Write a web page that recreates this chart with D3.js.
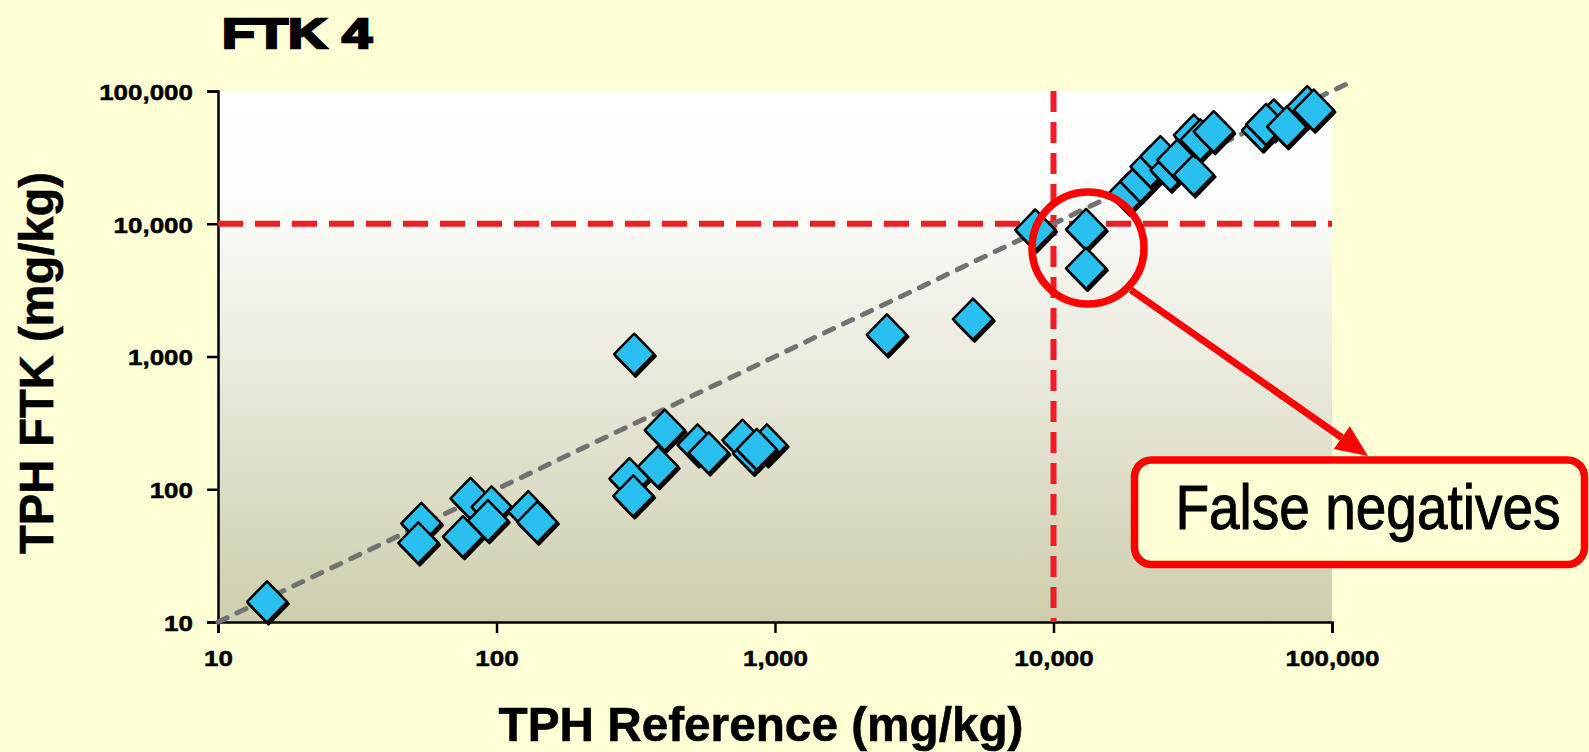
<!DOCTYPE html>
<html>
<head>
<meta charset="utf-8">
<script src="https://cdn.jsdelivr.net/npm/d3@7"></script>
<style>
html, body { margin: 0; padding: 0; background: #ffffd6; }
svg { display: block; }
</style>
</head>
<body>
<svg id="chart" width="1589" height="752"></svg>
<script>
// TPH reference vs FTK 4 (mg/kg)
const tphReference = [15, 53.7, 52.4, 80.7, 75.8, 96, 93.2, 130, 140,
    300, 310, 312, 402, 380, 527, 578, 764, 834, 935, 860,
    2520, 5140, 8600, 13090, 13090,
    18600, 20500, 22300, 24200, 26300, 27800, 31900, 31900, 33700, 37600,
    56100, 61800, 58000, 69000, 81500, 86000];
const tphFtk = [14.2, 55.3, 39.5, 85.3, 43.9, 73.8, 58, 67.8, 56.6,
    120, 89, 1040, 279, 148, 216, 188, 234, 186, 216, 200,
    1455, 1910, 8980, 9080, 4620,
    16970, 20800, 26900, 32000, 25400, 30200, 23300, 46600, 42800, 49400,
    50800, 60500, 56000, 53800, 76200, 71900];
const tickValues = [10, 100, 1000, 10000, 100000];
const actionLevel = 10000;          // red dashed threshold lines
const oneToOne = [10, 115000];       // grey 1:1 line
const calloutText = "False negatives";

const svg = d3.select("#chart");
const W = 1589, H = 752;
const plotLeft = 218, plotRight = 1332, plotTop = 91, plotBottom = 622;

svg.append("rect").attr("width", W).attr("height", H).attr("fill", "#ffffd6");

const x = d3.scaleLog().domain([10, 100000]).range([plotLeft, plotRight]);
const y = d3.scaleLog().domain([10, 100000]).range([plotBottom, plotTop]);

// plot background gradient
const defs = svg.append("defs");
const grad = defs.append("linearGradient").attr("id", "bg")
    .attr("x1", 0).attr("y1", 0).attr("x2", 0).attr("y2", 1);
grad.append("stop").attr("offset", "0").attr("stop-color", "#ffffff");
grad.append("stop").attr("offset", "0.2").attr("stop-color", "#fcfcfa");
grad.append("stop").attr("offset", "0.55").attr("stop-color", "#e8e8da");
grad.append("stop").attr("offset", "1").attr("stop-color", "#cecdac");

svg.append("rect")
    .attr("x", plotLeft).attr("y", plotTop)
    .attr("width", plotRight - plotLeft).attr("height", plotBottom - plotTop)
    .attr("fill", "url(#bg)");

// stretch text horizontally like the original
function stretch(sel, k) {
    sel.each(function () {
        const w = this.getComputedTextLength();
        d3.select(this).attr("textLength", w * k).attr("lengthAdjust", "spacingAndGlyphs");
    });
}

const fmt = d3.format(",");

// axes
const xAxis = svg.append("g")
    .attr("transform", `translate(0,${plotBottom})`)
    .call(d3.axisBottom(x).tickValues(tickValues).tickFormat(fmt).tickSize(11).tickPadding(17));
const yAxis = svg.append("g")
    .attr("transform", `translate(${plotLeft},0)`)
    .call(d3.axisLeft(y).tickValues(tickValues).tickFormat(fmt).tickSize(11).tickPadding(14));

[xAxis, yAxis].forEach(g => {
    g.select(".domain").attr("stroke", "#000").attr("stroke-width", 2.5);
    g.selectAll(".tick line").attr("stroke", "#000").attr("stroke-width", 2.5);
    g.selectAll(".tick text")
        .attr("fill", "#000")
        .attr("stroke", "#000").attr("stroke-width", 0.5)
        .style("font-family", "'Liberation Sans', Arial, sans-serif")
        .style("font-weight", "bold")
        .style("font-size", "22px");
});
xAxis.selectAll(".tick text").attr("dy", "0.71em");
yAxis.selectAll(".tick text").attr("dy", "0.38em");
stretch(xAxis.selectAll(".tick text"), 1.18);
stretch(yAxis.selectAll(".tick text"), 1.18);

// red threshold lines
svg.append("line")
    .attr("x1", plotLeft).attr("x2", plotRight)
    .attr("y1", y(actionLevel)).attr("y2", y(actionLevel))
    .attr("stroke", "#ee1d25").attr("stroke-width", 6)
    .attr("stroke-dasharray", "25,12");
svg.append("line")
    .attr("x1", x(actionLevel)).attr("x2", x(actionLevel))
    .attr("y1", plotTop).attr("y2", plotBottom)
    .attr("stroke", "#ee1d25").attr("stroke-width", 6)
    .attr("stroke-dasharray", "21,10");

// 1:1 line
svg.append("line")
    .attr("x1", x(oneToOne[0])).attr("y1", y(oneToOne[0]))
    .attr("x2", x(oneToOne[1])).attr("y2", y(oneToOne[1]))
    .attr("stroke", "#727272").attr("stroke-width", 5)
    .attr("stroke-linecap", "round")
    .attr("stroke-dasharray", "10,11");

// diamonds
const points = tphReference.map((v, i) => ({ ref: v, ftk: tphFtk[i] }));
const diamond = "M0,-20.5L20,0L0,20.5L-20,0Z";

const marks = svg.append("g").selectAll("g")
    .data(points)
    .enter().append("g")
    .attr("transform", d => `translate(${x(d.ref)},${y(d.ftk)})`);

marks.append("path")
    .attr("d", diamond)
    .attr("transform", "translate(1.5,2)")
    .attr("fill", "#000")
    .attr("stroke", "#000")
    .attr("stroke-width", 2.5)
    .attr("stroke-linejoin", "round");
marks.append("path")
    .attr("d", diamond)
    .attr("fill", "#29c0ef")
    .attr("stroke", "#000")
    .attr("stroke-width", 2.5)
    .attr("stroke-linejoin", "round");

// annotation: circle, arrow and callout box
const circleX = 1088, circleY = 248;
svg.append("circle")
    .attr("cx", circleX).attr("cy", circleY).attr("r", 56)
    .attr("fill", "none").attr("stroke", "#ff0000").attr("stroke-width", 7.5);

const tip = [1368, 456], tail = [1131, 290];
const ang = Math.atan2(tip[1] - tail[1], tip[0] - tail[0]);
const headLen = 32, headHalf = 14;
const base = [tip[0] - headLen * Math.cos(ang), tip[1] - headLen * Math.sin(ang)];
svg.append("line")
    .attr("x1", tail[0]).attr("y1", tail[1])
    .attr("x2", base[0]).attr("y2", base[1])
    .attr("stroke", "#ff0000").attr("stroke-width", 7);
svg.append("path")
    .attr("d", d3.line()([
        tip,
        [base[0] + headHalf * Math.sin(ang), base[1] - headHalf * Math.cos(ang)],
        [base[0] - headHalf * Math.sin(ang), base[1] + headHalf * Math.cos(ang)]
    ]) + "Z")
    .attr("fill", "#ff0000");

svg.append("rect")
    .attr("x", 1134.5).attr("y", 460)
    .attr("width", 450).attr("height", 104.5)
    .attr("rx", 17)
    .attr("fill", "#ffffd6")
    .attr("stroke", "#ff0000").attr("stroke-width", 7.5);
// regular face, pulled taller to look like the narrow font of the original
svg.append("text")
    .attr("transform", "translate(1368,529) scale(1,1.15)")
    .attr("text-anchor", "middle")
    .style("font-family", "'Liberation Sans', Arial, sans-serif")
    .style("font-size", "55px")
    .attr("fill", "#000").attr("stroke", "#000").attr("stroke-width", 0.9)
    .text(calloutText);

// title and axis titles
svg.append("text")
    .attr("x", 222).attr("y", 48)
    .attr("textLength", 150).attr("lengthAdjust", "spacingAndGlyphs")
    .style("font-family", "'Liberation Sans', Arial, sans-serif")
    .style("font-weight", "bold")
    .style("font-size", "42px")
    .attr("fill", "#000").attr("stroke", "#000").attr("stroke-width", 2.4)
    .text("FTK 4");

svg.append("text")
    .attr("x", 761).attr("y", 741)
    .attr("text-anchor", "middle")
    .attr("textLength", 525).attr("lengthAdjust", "spacingAndGlyphs")
    .style("font-family", "'Liberation Sans', Arial, sans-serif")
    .style("font-weight", "bold")
    .style("font-size", "49px")
    .attr("fill", "#000").attr("stroke", "#000").attr("stroke-width", 0.6)
    .text("TPH Reference (mg/kg)");

svg.append("text")
    .attr("transform", "translate(53,363) rotate(-90)")
    .attr("text-anchor", "middle")
    .attr("textLength", 382).attr("lengthAdjust", "spacingAndGlyphs")
    .style("font-family", "'Liberation Sans', Arial, sans-serif")
    .style("font-weight", "bold")
    .style("font-size", "48px")
    .attr("fill", "#000").attr("stroke", "#000").attr("stroke-width", 0.6)
    .text("TPH FTK (mg/kg)");
</script>
</body>
</html>
